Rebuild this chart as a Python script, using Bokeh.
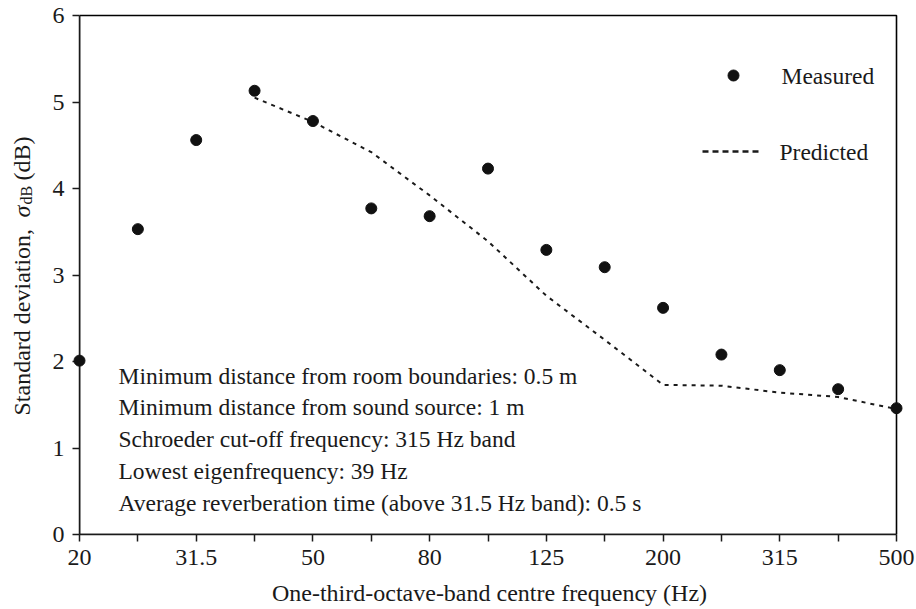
import math
from bokeh.plotting import figure
from bokeh.models import Range1d, FixedTicker
from bokeh.core.properties import value
from bokeh.embed import file_html
from bokeh.resources import INLINE

# One-third-octave bands and standard deviation of the sound pressure level (dB)
bands = ["20", "25", "31.5", "40", "50", "63", "80", "100",
         "125", "160", "200", "250", "315", "400", "500"]
measured = [2.01, 3.53, 4.56, 5.13, 4.78, 3.77, 3.68, 4.23,
            3.29, 3.09, 2.62, 2.08, 1.90, 1.68, 1.46]
# prediction starts at the 40 Hz band
predicted_bands = ["40", "50", "63", "80", "100", "125", "160",
                   "200", "250", "315", "400", "500"]
predicted = [5.05, 4.77, 4.42, 3.92, 3.39, 2.76, 2.25,
             1.73, 1.72, 1.64, 1.59, 1.45]
labelled_bands = ["20", "31.5", "50", "80", "125", "200", "315", "500"]
y_ticks = [0, 1, 2, 3, 4, 5, 6]

notes = [
    "Minimum distance from room boundaries: 0.5 m",
    "Minimum distance from sound source: 1 m",
    "Schroeder cut-off frequency: 315 Hz band",
    "Lowest eigenfrequency: 39 Hz",
    "Average reverberation time (above 31.5 Hz band): 0.5 s",
]

FONT = "Liberation Serif"
INK = "#1a1a1a"

W, H = 916, 609
# pixel box of the axes rectangle
BOX_L, BOX_R, BOX_T, BOX_B = 79, 896, 15, 534
PAD = 3  # small extra room on top/right so the closing lines sit inside the frame

x_lo, x_hi = 0, len(bands) - 1
y_lo, y_hi = y_ticks[0], y_ticks[-1]
ux = (BOX_R - BOX_L) / (x_hi - x_lo)   # px per band
uy = (BOX_B - BOX_T) / (y_hi - y_lo)   # px per dB

xr = Range1d(x_lo, x_hi + PAD / ux)
yr = Range1d(y_lo, y_hi + PAD / uy)

pos = {b: i for i, b in enumerate(bands)}
x_meas = [pos[b] for b in bands]
x_pred = [pos[b] for b in predicted_bands]

p = figure(width=W, height=H, output_backend="svg", toolbar_location=None,
           x_range=xr, y_range=yr,
           min_border_left=BOX_L, min_border_right=W - BOX_R - PAD,
           min_border_top=BOX_T - PAD, min_border_bottom=H - BOX_B,
           background_fill_color="white", border_fill_color="white")
p.grid.visible = False
p.outline_line_color = None

def px_x(px):
    return x_lo + (px - BOX_L) / ux
def px_y(py):
    return y_lo + (BOX_B - py) / uy

for ax in (p.xaxis[0], p.yaxis[0]):
    ax.axis_line_color = INK
    ax.axis_line_width = 1.5
    ax.major_tick_line_color = INK
    ax.major_tick_line_width = 1.5
    ax.major_tick_out = 7
    ax.major_tick_in = 0
    ax.minor_tick_line_color = None
    ax.major_label_text_font = FONT
    ax.major_label_text_font_size = "24px"
    ax.major_label_text_color = INK
    ax.major_label_standoff = 8

p.xaxis.bounds = (x_lo, x_hi)
p.yaxis.bounds = (y_lo, y_hi)
p.xaxis.ticker = FixedTicker(ticks=list(range(len(bands))))
p.xaxis.major_label_overrides = {
    i: (b if b in labelled_bands else "") for i, b in enumerate(bands)
}
p.yaxis.ticker = FixedTicker(ticks=y_ticks)

p.xaxis.axis_label = "One-third-octave-band centre frequency (Hz)"
p.xaxis.axis_label_text_font = FONT
p.xaxis.axis_label_text_font_size = "24px"
p.xaxis.axis_label_text_font_style = "normal"
p.xaxis.axis_label_text_color = INK
p.xaxis.axis_label_standoff = 12

# outline of the axes rectangle as an unfilled quad
p.quad(left=[x_lo], right=[x_hi], bottom=[y_lo], top=[y_hi],
       fill_color=None, line_color="black", line_width=1.6)

# series
p.line(x=x_pred, y=predicted, line_color=INK, line_width=2, line_dash="4 5")
p.scatter(x=x_meas, y=measured, size=11, fill_color="#111111",
          line_color="#111111", level="overlay")

# legend drawn by hand
p.scatter(x=[px_x(733)], y=[px_y(75)], size=11, fill_color="#111111",
          line_color="#111111")
p.text(x=[px_x(781)], y=[px_y(75)], text=["Measured"], text_font=value(FONT),
       text_font_size="23.5px", text_color=INK, text_baseline="middle")
p.line(x=[px_x(702), px_x(762)], y=[px_y(151), px_y(151)], line_color=INK,
       line_width=2.6, line_dash="6 4")
p.text(x=[px_x(779)], y=[px_y(151)], text=["Predicted"], text_font=value(FONT),
       text_font_size="23.5px", text_color=INK, text_baseline="middle")

# room and measurement notes
p.text(x=[px_x(118)] * len(notes),
       y=[px_y(375 + 31.8 * i) for i in range(len(notes))],
       text=notes, text_font=value(FONT), text_font_size="23.5px",
       text_color=INK, text_baseline="alphabetic")

# rotated y-axis title with italic sigma and subscript
ang = math.pi / 2
y_parts = [
    ("Standard deviation,", 415, 21, "24px", "normal"),
    ("\u03c3", 217, 21, "24px", "italic"),
    ("dB", 204, 26, "16px", "normal"),
    ("(dB)", 180, 21, "24px", "normal"),
]
for txt, py, pxx, size, style in y_parts:
    p.text(x=[px_x(pxx)], y=[px_y(py)], text=[txt], angle=ang,
           text_align="left", text_baseline="middle",
           text_font=value(FONT), text_font_size=size,
           text_font_style=style, text_color=INK, level="overlay")

open("out.html", "w").write(file_html(p, INLINE))
